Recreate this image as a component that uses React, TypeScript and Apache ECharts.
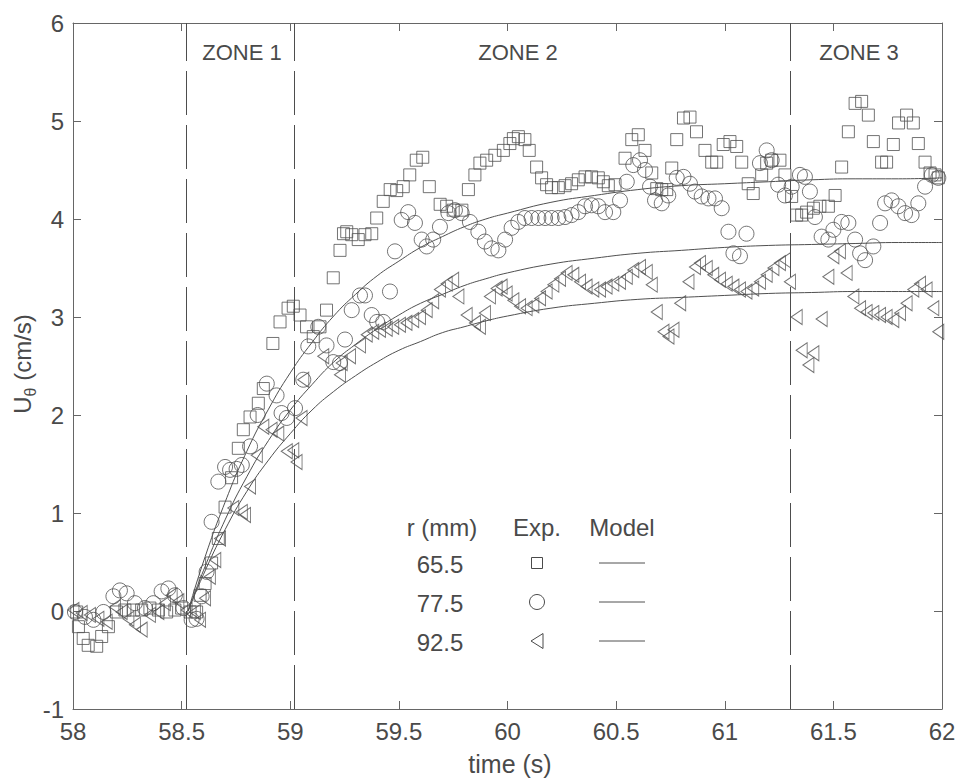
import React, { useEffect, useRef } from "react";
import * as echarts from "echarts";

// ---------- data ----------
const xTicks = [58, 58.5, 59, 59.5, 60, 60.5, 61, 61.5, 62];
const yTicks = [-1, 0, 1, 2, 3, 4, 5, 6];
const zoneBounds = [58.52, 59.02, 61.3];
const zoneNames = ["ZONE 1", "ZONE 2", "ZONE 3"];
const radii = ["65.5", "77.5", "92.5"];

// experimental, r = 65.5 mm (squares)
const exp65: number[][] = [
  [58.017, -0.01], [58.025, -0.16], [58.047, -0.28], [58.07, -0.35], [58.109, -0.36], [58.132, -0.26],
  [58.163, -0.16], [58.2, -0.01], [58.239, 0.01], [58.278, 0.01], [58.316, 0.01], [58.354, 0.03],
  [58.393, 0.01], [58.431, -0.01], [58.469, 0.01], [58.5, 0.03], [58.539, -0.01], [58.569, -0.01],
  [58.585, 0.16], [58.608, 0.28], [58.638, 0.49], [58.669, 0.74], [58.7, 1.06], [58.73, 1.36],
  [58.761, 1.66], [58.784, 1.85], [58.815, 1.98], [58.853, 2.12], [58.876, 2.27], [58.92, 2.73],
  [58.953, 2.95], [58.99, 3.09], [59.014, 3.11], [59.045, 3.02], [59.075, 2.9], [59.106, 2.8],
  [59.137, 2.9], [59.167, 3.07], [59.198, 3.4], [59.229, 3.68], [59.245, 3.85], [59.26, 3.87],
  [59.283, 3.84], [59.313, 3.79], [59.344, 3.84], [59.375, 3.85], [59.398, 4.01], [59.428, 4.18],
  [59.46, 4.3], [59.49, 4.29], [59.52, 4.33], [59.55, 4.45], [59.58, 4.6], [59.61, 4.63],
  [59.64, 4.33], [59.69, 4.15], [59.72, 4.13], [59.75, 4.09], [59.79, 4.09], [59.82, 4.3],
  [59.85, 4.45], [59.873, 4.57], [59.904, 4.6], [59.942, 4.65], [59.981, 4.7], [60.011, 4.77],
  [60.027, 4.82], [60.05, 4.84], [60.08, 4.81], [60.1, 4.7], [60.134, 4.53], [60.157, 4.42],
  [60.18, 4.35], [60.203, 4.32], [60.234, 4.32], [60.265, 4.34], [60.295, 4.36], [60.326, 4.4],
  [60.357, 4.43], [60.387, 4.43], [60.418, 4.42], [60.441, 4.38], [60.464, 4.34], [60.495, 4.35],
  [60.541, 4.62], [60.572, 4.81], [60.602, 4.86], [60.633, 4.7], [60.664, 4.47], [60.687, 4.31],
  [60.71, 4.3], [60.733, 4.3], [60.756, 4.52], [60.779, 4.81], [60.81, 5.03], [60.84, 5.04],
  [60.87, 4.89], [60.909, 4.7], [60.94, 4.58], [60.963, 4.58], [60.993, 4.76], [61.024, 4.79],
  [61.055, 4.74], [61.078, 4.58], [61.108, 4.36], [61.131, 4.26], [61.17, 4.45], [61.193, 4.57],
  [61.216, 4.6], [61.254, 4.6], [61.277, 4.45], [61.308, 4.23], [61.331, 4.04], [61.354, 4.04],
  [61.377, 4.07], [61.408, 4.11], [61.438, 4.13], [61.477, 4.13], [61.508, 4.24], [61.538, 4.53],
  [61.569, 4.89], [61.6, 5.18], [61.63, 5.2], [61.661, 5.06], [61.684, 4.79], [61.722, 4.58],
  [61.745, 4.58], [61.776, 4.76], [61.8, 4.98], [61.837, 5.06], [61.868, 4.98], [61.891, 4.77],
  [61.922, 4.58], [61.945, 4.47], [61.968, 4.45], [61.983, 4.42],
];

// experimental, r = 77.5 mm (circles)
const exp77: number[][] = [
  [58.009, -0.01], [58.055, -0.06], [58.094, -0.09], [58.14, -0.01], [58.186, 0.15], [58.216, 0.21],
  [58.247, 0.18], [58.285, 0.08], [58.331, 0.03], [58.37, 0.08], [58.408, 0.2], [58.439, 0.23],
  [58.469, 0.16], [58.508, 0.03], [58.546, -0.09], [58.569, -0.08], [58.592, 0.15], [58.615, 0.4],
  [58.638, 0.91], [58.669, 1.32], [58.7, 1.47], [58.723, 1.44], [58.753, 1.45], [58.777, 1.49],
  [58.815, 1.68], [58.85, 2.0], [58.892, 2.32], [58.937, 2.2], [58.96, 2.02], [58.984, 1.97],
  [59.022, 2.07], [59.06, 2.36], [59.083, 2.7], [59.129, 2.9], [59.167, 2.71], [59.198, 2.54],
  [59.229, 2.53], [59.252, 2.77], [59.283, 3.07], [59.321, 3.22], [59.344, 3.22], [59.375, 3.02],
  [59.4, 2.95], [59.428, 2.95], [59.459, 3.26], [59.482, 3.67], [59.513, 3.99], [59.543, 4.07],
  [59.574, 3.96], [59.605, 3.79], [59.628, 3.72], [59.658, 3.79], [59.689, 3.92], [59.728, 4.06],
  [59.758, 4.09], [59.789, 4.06], [59.827, 3.97], [59.866, 3.87], [59.896, 3.77], [59.927, 3.7],
  [59.958, 3.68], [59.989, 3.79], [60.019, 3.91], [60.05, 3.97], [60.08, 4.01], [60.111, 4.01],
  [60.142, 4.01], [60.173, 4.01], [60.203, 4.01], [60.234, 4.01], [60.265, 4.02], [60.295, 4.04],
  [60.326, 4.07], [60.357, 4.13], [60.387, 4.14], [60.418, 4.13], [60.449, 4.07], [60.487, 4.07],
  [60.518, 4.19], [60.549, 4.38], [60.579, 4.55], [60.61, 4.6], [60.633, 4.5], [60.656, 4.33],
  [60.679, 4.19], [60.71, 4.16], [60.74, 4.24], [60.779, 4.42], [60.81, 4.43], [60.84, 4.36],
  [60.863, 4.28], [60.894, 4.23], [60.925, 4.21], [60.955, 4.21], [60.986, 4.11], [61.017, 3.87],
  [61.04, 3.65], [61.07, 3.62], [61.1, 3.85], [61.162, 4.57], [61.193, 4.7], [61.216, 4.6],
  [61.246, 4.35], [61.277, 4.24], [61.308, 4.33], [61.346, 4.45], [61.369, 4.43], [61.392, 4.28],
  [61.415, 4.02], [61.446, 3.82], [61.477, 3.79], [61.5, 3.89], [61.538, 3.97], [61.569, 3.96],
  [61.6, 3.79], [61.623, 3.65], [61.646, 3.58], [61.684, 3.72], [61.715, 3.96], [61.738, 4.16],
  [61.768, 4.19], [61.799, 4.13], [61.83, 4.06], [61.86, 4.04], [61.891, 4.16], [61.922, 4.33],
  [61.953, 4.45], [61.983, 4.42],
];

// experimental, r = 92.5 mm (left triangles)
const exp92: number[][] = [
  [58.002, 0.01], [58.04, -0.02], [58.078, -0.04], [58.117, -0.08], [58.155, -0.11], [58.193, 0.04],
  [58.224, -0.01], [58.255, -0.08], [58.285, -0.14], [58.316, -0.19], [58.354, -0.04], [58.393, -0.01],
  [58.423, 0.08], [58.454, 0.16], [58.485, 0.1], [58.523, 0.01], [58.561, -0.01], [58.585, -0.09],
  [58.608, 0.13], [58.63, 0.35], [58.655, 0.52], [58.677, 0.74], [58.738, 1.05], [58.777, 1.01],
  [58.792, 0.98], [58.815, 1.27], [58.846, 1.59], [58.876, 1.88], [58.914, 1.85], [58.945, 1.81],
  [58.984, 1.63], [59.014, 1.64], [59.029, 1.52], [59.052, 1.97], [59.06, 2.36], [59.152, 2.6],
  [59.229, 2.41], [59.237, 2.53], [59.275, 2.6], [59.321, 2.71], [59.352, 2.82], [59.382, 2.85],
  [59.413, 2.87], [59.444, 2.88], [59.474, 2.9], [59.505, 2.92], [59.535, 2.94], [59.566, 2.97],
  [59.597, 3.0], [59.628, 3.07], [59.658, 3.16], [59.689, 3.28], [59.72, 3.34], [59.75, 3.38],
  [59.774, 3.21], [59.812, 3.02], [59.85, 2.94], [59.873, 2.9], [59.896, 3.04], [59.919, 3.21],
  [59.95, 3.29], [59.973, 3.31], [59.996, 3.24], [60.027, 3.17], [60.058, 3.11], [60.088, 3.09],
  [60.119, 3.12], [60.15, 3.19], [60.18, 3.26], [60.211, 3.33], [60.242, 3.39], [60.272, 3.45],
  [60.303, 3.43], [60.334, 3.36], [60.364, 3.31], [60.395, 3.28], [60.426, 3.28], [60.456, 3.31],
  [60.487, 3.34], [60.518, 3.36], [60.549, 3.41], [60.579, 3.48], [60.61, 3.51], [60.641, 3.46],
  [60.664, 3.33], [60.687, 3.05], [60.718, 2.85], [60.741, 2.8], [60.764, 2.87], [60.795, 3.14],
  [60.833, 3.36], [60.863, 3.51], [60.886, 3.55], [60.917, 3.5], [60.947, 3.43], [60.978, 3.38],
  [61.009, 3.34], [61.04, 3.31], [61.07, 3.28], [61.1, 3.26], [61.131, 3.29], [61.162, 3.36],
  [61.193, 3.43], [61.224, 3.5], [61.254, 3.55], [61.277, 3.58], [61.3, 3.36], [61.331, 3.0],
  [61.354, 2.66], [61.385, 2.51], [61.408, 2.63], [61.446, 2.98], [61.477, 3.41], [61.5, 3.62],
  [61.53, 3.67], [61.561, 3.45], [61.592, 3.21], [61.623, 3.09], [61.653, 3.05], [61.684, 3.04],
  [61.715, 3.02], [61.745, 3.0], [61.776, 2.97], [61.807, 3.04], [61.837, 3.14], [61.868, 3.28],
  [61.899, 3.34], [61.929, 3.28], [61.96, 3.09], [61.983, 2.85],
];

// model curves
const modelT = [58.53, 58.6, 58.7, 58.8, 58.9, 59.0, 59.1, 59.2, 59.3, 59.4, 59.5, 59.6, 59.7,
  59.8, 59.9, 60.0, 60.2, 60.4, 60.6, 60.8, 61.0, 61.2, 61.4, 61.6, 61.8, 62.0];
const model65 = [0, 0.5, 1.11, 1.63, 2.06, 2.43, 2.74, 3.01, 3.23, 3.42, 3.57, 3.71, 3.82,
  3.92, 4.0, 4.06, 4.17, 4.24, 4.3, 4.34, 4.36, 4.38, 4.4, 4.41, 4.41, 4.42];
const model77 = [0, 0.41, 0.93, 1.37, 1.74, 2.05, 2.31, 2.54, 2.72, 2.88, 3.02, 3.14, 3.23,
  3.32, 3.39, 3.45, 3.54, 3.6, 3.65, 3.68, 3.71, 3.73, 3.74, 3.75, 3.76, 3.76];
const model92 = [0, 0.37, 0.83, 1.22, 1.54, 1.81, 2.05, 2.24, 2.4, 2.54, 2.66, 2.75, 2.84,
  2.9, 2.96, 3.01, 3.09, 3.14, 3.18, 3.2, 3.22, 3.24, 3.25, 3.26, 3.26, 3.26];

// ---------- styling ----------
const FONT = "'Liberation Sans', Arial, Helvetica, sans-serif";
const TICK_FONT = "'Liberation Sans Narrow', 'Liberation Sans', Arial, sans-serif";
const INK = "#4a4a4a";
const AXIS = "#666666";
const TRI_PATH = "path://M11,0 L0,7.5 L11,15 Z";

export default function App() {
  const ref = useRef<HTMLDivElement>(null);

  useEffect(() => {
    if (!ref.current) return;
    const chart = echarts.init(ref.current, undefined, { renderer: "svg" });

    const pts = (arr: number[][]) => arr.map((p) => [p[0], p[1]]);
    const modelData = (vals: number[]) => modelT.map((t, i) => [t, vals[i]]);

    const hollow = { color: "rgba(0,0,0,0)", borderColor: "#505050", borderWidth: 1 };
    const modelLine = (name: string, vals: number[]) => ({
      name,
      type: "line",
      data: modelData(vals),
      showSymbol: false,
      smooth: true,
      silent: true,
      z: 3,
      lineStyle: { color: "#505050", width: 1 },
    });

    const baseAxisX = {
      type: "value",
      min: xTicks[0],
      max: xTicks[xTicks.length - 1],
      interval: 0.5,
      splitLine: { show: false },
      axisLine: { show: true, onZero: false, lineStyle: { color: AXIS, width: 1 } },
      axisTick: { show: true, inside: true, length: 8, lineStyle: { color: AXIS } },
    };
    const baseAxisY = {
      type: "value",
      min: yTicks[0],
      max: yTicks[yTicks.length - 1],
      interval: 1,
      splitLine: { show: false },
      axisLine: { show: true, onZero: false, lineStyle: { color: AXIS, width: 1 } },
      axisTick: { show: true, inside: true, length: 8, lineStyle: { color: AXIS } },
    };

    const LF = `24px ${FONT}`;
    const legendX = { r: 442, exp: 537, model: 622 };
    const legendRowsY = [564, 603, 642];
    const headerY = 527;
    const legendGraphics: any[] = [
      { type: "text", x: legendX.r, y: headerY, style: { text: "r (mm)", font: LF, fill: INK, align: "center", verticalAlign: "middle" } },
      { type: "text", x: legendX.exp, y: headerY, style: { text: "Exp.", font: LF, fill: INK, align: "center", verticalAlign: "middle" } },
      { type: "text", x: legendX.model, y: headerY, style: { text: "Model", font: LF, fill: INK, align: "center", verticalAlign: "middle" } },
    ];
    radii.forEach((r, i) => {
      const y = legendRowsY[i];
      legendGraphics.push({ type: "text", x: legendX.r - 2, y, style: { text: r, font: LF, fill: INK, align: "center", verticalAlign: "middle" } });
      legendGraphics.push({ type: "line", shape: { x1: 599, y1: y - 1, x2: 645, y2: y - 1 }, style: { stroke: "#505050", lineWidth: 1 } });
    });
    legendGraphics.push({ type: "rect", shape: { x: legendX.exp - 5.5, y: legendRowsY[0] - 6.5, width: 11, height: 11 }, style: { fill: "none", stroke: INK, lineWidth: 1 } });
    legendGraphics.push({ type: "circle", shape: { cx: legendX.exp, cy: legendRowsY[1] - 1, r: 7.5 }, style: { fill: "none", stroke: INK, lineWidth: 1 } });
    legendGraphics.push({ type: "polygon", shape: { points: [[legendX.exp + 6, legendRowsY[2] - 8.5], [legendX.exp - 6, legendRowsY[2] - 1], [legendX.exp + 6, legendRowsY[2] + 6.5]] }, style: { fill: "none", stroke: INK, lineWidth: 1 } });

    const zoneCenters = [242, 518, 859];
    const zoneGraphics = zoneNames.map((z, i) => ({
      type: "text",
      x: zoneCenters[i],
      y: 52,
      style: { text: z, font: `22px ${FONT}`, fill: INK, align: "center", verticalAlign: "middle" },
    }));

    chart.setOption({
      animation: false,
      backgroundColor: "#ffffff",
      grid: { left: 73, right: 19, top: 23, bottom: 75, containLabel: false },
      xAxis: [
        {
          ...baseAxisX,
          position: "bottom",
          axisLabel: { show: true, color: INK, fontSize: 24, fontFamily: TICK_FONT, margin: 10 },
        },
        { ...baseAxisX, position: "top", axisLabel: { show: false } },
      ],
      yAxis: [
        {
          ...baseAxisY,
          position: "left",
          axisLabel: { show: true, color: INK, fontSize: 24, fontFamily: TICK_FONT, margin: 9 },
        },
        { ...baseAxisY, position: "right", axisLabel: { show: false } },
      ],
      series: [
        {
          name: "zones",
          type: "line",
          data: [],
          silent: true,
          markLine: {
            silent: true,
            symbol: ["none", "none"],
            label: { show: false },
            lineStyle: { type: [44, 10], color: "#4d4d4d", width: 1 },
            data: zoneBounds.map((b) => ({ xAxis: b })),
          },
        },
        modelLine("model 65.5", model65),
        modelLine("model 77.5", model77),
        modelLine("model 92.5", model92),
        {
          name: "65.5",
          type: "scatter",
          data: pts(exp65),
          symbol: "rect",
          symbolSize: 12,
          itemStyle: hollow,
          z: 4,
        },
        {
          name: "77.5",
          type: "scatter",
          data: pts(exp77),
          symbol: "circle",
          symbolSize: 15,
          itemStyle: hollow,
          z: 4,
        },
        {
          name: "92.5",
          type: "scatter",
          data: pts(exp92),
          symbol: TRI_PATH,
          symbolSize: [11, 15],
          itemStyle: hollow,
          z: 4,
        },
      ],
      graphic: [
        ...zoneGraphics,
        ...legendGraphics,
        {
          type: "text",
          x: 510,
          y: 764,
          style: { text: "time (s)", font: `25px ${FONT}`, fill: INK, align: "center", verticalAlign: "middle" },
        },
        {
          type: "text",
          x: 22,
          y: 364,
          rotation: Math.PI / 2,
          style: {
            text: "{a|U}{b|θ}{a| (cm/s)}",
            align: "center",
            verticalAlign: "middle",
            rich: {
              a: { font: `24px ${FONT}`, fill: INK, lineHeight: 32 },
              b: { font: `16px ${FONT}`, fill: INK, lineHeight: 32, verticalAlign: "bottom", padding: [10, 0, 0, 0] },
            },
          },
        },
      ],
    });

    return () => chart.dispose();
  }, []);

  return (
    <div
      ref={ref}
      style={{ position: "fixed", left: 0, top: 0, width: 961, height: 784, background: "#fff" }}
    />
  );
}
